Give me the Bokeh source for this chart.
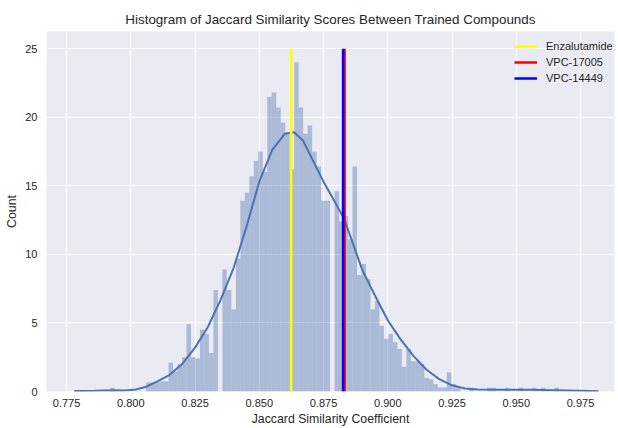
import numpy as np
from bokeh.plotting import figure
from bokeh.models import Range1d, FixedTicker, NumeralTickFormatter, Legend, LegendItem, ColumnDataSource
from bokeh.embed import file_html
from bokeh.resources import INLINE

# ---------------- data ----------------
hist_min = 0.7920
hist_max = 0.9666
densities = [
    0.27, 0, 0, 0, 0, 0, 0, 0, 0.65, 0.65,
    0.65, 0.75, 0.75, 2.1, 1.45, 2.0, 2.5, 4.9, 2.5, 2.4,
    4.5, 4.2, 2.8, 7.4, 0, 8.9, 7.4, 6.0, 9.7, 13.9,
    14.5, 15.7, 16.8, 17.5, 16.0, 21.5, 21.8, 20.7, 19.6, 18.9,
    16.2, 24.0, 20.7, 18.8, 19.4, 17.5, 16.4, 13.9, 13.9, 0,
    14.6, 12.4, 12.8, 11.1, 16.4, 8.5, 9.3, 8.2, 6.0, 6.6,
    4.8, 3.85, 4.2, 3.6, 3.1, 1.8, 3.1, 2.2, 2.2, 2.0,
    1.0, 0.9, 0.55, 0.3, 0.3, 1.4, 0.55, 0.3, 0, 0,
    0.27, 0, 0, 0, 0.27, 0.27, 0, 0, 0.27, 0,
    0, 0.27, 0, 0, 0.27, 0, 0.27, 0, 0, 0.27,
]

kde_x = [0.778, 0.786, 0.793, 0.798, 0.802, 0.806, 0.810, 0.815, 0.820, 0.825,
         0.830, 0.835, 0.840, 0.845, 0.850, 0.855, 0.860, 0.8635, 0.867, 0.871,
         0.875, 0.878, 0.883, 0.887, 0.890, 0.895, 0.900, 0.905, 0.910, 0.915,
         0.920, 0.925, 0.930, 0.935, 0.945, 0.955, 0.965, 0.975, 0.982]
kde_y = [0.03, 0.06, 0.10, 0.08, 0.15, 0.35, 0.7, 1.2, 2.0, 3.2,
         4.7, 6.7, 9.0, 12.0, 15.3, 17.6, 18.8, 18.9, 18.3, 16.8,
         15.3, 14.3, 12.6, 10.5, 8.9, 7.0, 5.2, 3.8, 2.6, 1.6,
         0.9, 0.45, 0.22, 0.15, 0.13, 0.12, 0.09, 0.05, 0.02]

compound_names = ["Enzalutamide", "VPC-17005", "VPC-14449"]
compound_scores = [0.8624, 0.8832, 0.8826]
line_top = 25

x_ticks = [0.775, 0.800, 0.825, 0.850, 0.875, 0.900, 0.925, 0.950, 0.975]
y_ticks = [0, 5, 10, 15, 20, 25]

# ---------------- styles ----------------
FONT = "Liberation Sans"
TEXT = "#262626"
SEABORN_BLUE = "#4C72B0"
compound_colors = ["#FFFF00", "#FF0000", "#0000FF"]

p = figure(width=618, height=428, output_backend="svg", toolbar_location=None,
           x_range=Range1d(0.7672, 0.98823), y_range=Range1d(0, 26.25),
           min_border_left=46, min_border_right=4, min_border_top=31, min_border_bottom=34)

p.background_fill_color = "#EAEAF2"
p.border_fill_color = "white"
p.outline_line_color = None

p.title.text = "Histogram of Jaccard Similarity Scores Between Trained Compounds"
p.title.align = "center"
p.title.text_font = FONT
p.title.text_font_size = "13.4px"
p.title.text_font_style = "normal"
p.title.text_color = TEXT

for g in (p.xgrid, p.ygrid):
    g.grid_line_color = "white"
    g.grid_line_width = 1
p.xgrid.ticker = FixedTicker(ticks=x_ticks)
p.ygrid.ticker = FixedTicker(ticks=y_ticks)

p.xaxis.ticker = FixedTicker(ticks=x_ticks)
p.xaxis.formatter = NumeralTickFormatter(format="0.000")
p.yaxis.ticker = FixedTicker(ticks=y_ticks)
p.xaxis.axis_label = "Jaccard Similarity Coefficient"
p.yaxis.axis_label = "Count"
for ax in (p.xaxis, p.yaxis):
    ax.axis_line_color = None
    ax.major_tick_line_color = None
    ax.minor_tick_line_color = None
    ax.major_tick_out = 0
    ax.major_tick_in = 0
    ax.major_label_text_font = FONT
    ax.major_label_text_font_size = "11px"
    ax.major_label_text_color = TEXT
    ax.axis_label_text_font = FONT
    ax.axis_label_text_font_size = "12.3px"
    ax.axis_label_text_font_style = "normal"
    ax.axis_label_text_color = TEXT
p.xaxis.major_label_standoff = 7
p.yaxis.major_label_standoff = 9
p.xaxis.axis_label_standoff = 2
p.yaxis.axis_label_standoff = 3

# histogram
edges = np.linspace(hist_min, hist_max, len(densities) + 1)
src = ColumnDataSource(dict(left=edges[:-1], right=edges[1:], top=densities,
                            bottom=[0] * len(densities)))
p.quad(left="left", right="right", top="top", bottom="bottom", source=src,
       fill_color=SEABORN_BLUE, fill_alpha=0.4, line_color=None)

# kde
p.line(kde_x, kde_y, line_color=SEABORN_BLUE, line_width=2)

# compound lines
items = []
for name, score, col in zip(compound_names, compound_scores, compound_colors):
    r = p.segment(x0=[score], y0=[0], x1=[score], y1=[line_top],
                  line_color=col, line_width=2.5)
    items.append(LegendItem(label=name, renderers=[r]))

legend = Legend(items=items, location=(468, 305))
legend.background_fill_alpha = 0
legend.border_line_color = None
legend.padding = 0
legend.margin = 0
legend.spacing = 0
legend.glyph_width = 23
legend.glyph_height = 16
legend.label_height = 16
legend.label_standoff = 9
legend.label_text_font = FONT
legend.label_text_font_size = "11px"
legend.label_text_color = TEXT
p.add_layout(legend, "center")

open("out.html", "w").write(file_html(p, INLINE))
